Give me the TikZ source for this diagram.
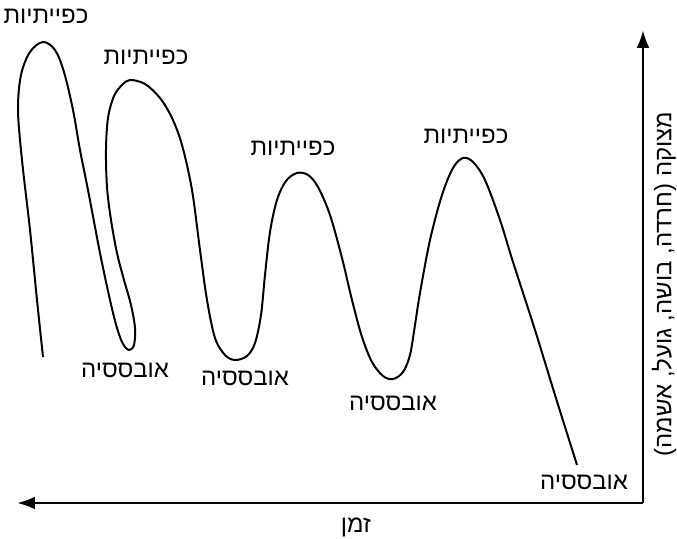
\documentclass[tikz,border=0pt]{standalone}
\usepackage{fontspec}
\usepackage{tikz}
\usetikzlibrary{arrows.meta, positioning, calc}
\TeXXeTstate=1
\newfontfamily\hebfont[Script=Hebrew]{Liberation Sans}

\begin{document}
\begin{tikzpicture}[x=0.5pt, y=-0.5pt, >={Latex[length=9pt,width=6.5pt]},
  lbl/.style={font=\hebfont\fontsize{12}{14}\selectfont, inner sep=0pt}]
\useasboundingbox (0,0) rectangle (677,539);

% צירים
\coordinate (origin) at (643,503);
\coordinate (tend) at (17,503);
\coordinate (send) at (643,30);
\draw[->, line width=1.4pt] (origin) -- (tend);
\draw[->, line width=1.4pt] (origin) -- (send);
\node[lbl] (time) at (356,527) {\beginR זמן\endR};
\node[lbl, rotate=90] (distress) at (664,284) {\beginR מצוקה (חרדה, בושה, גועל, אשמה)\endR};

% העקומה
\draw[line width=1pt, line join=round] plot[smooth, tension=0.55] coordinates {
  (43,357) (37,300) (30,230) (22,160) (18,110) (21,75) (30,52) (43,42)
  (55,50) (64,72) (73,110) (80,150) (88,190) (100,253) (110,300) (117,328)
  (123,344) (129,350) (134,345) (135,328) (131,305) (124,280) (117,253)
  (111,220) (107,187) (106,150) (108,118) (114,96) (122,85) (130,80)
  (145,84) (160,98) (172,118) (182,145) (192,190) (200,250) (207,300)
  (215,338) (225,355) (235,360) (247,356) (255,343) (261,315) (265,275)
  (270,232) (277,200) (286,181) (297,173) (308,175) (318,187) (330,215)
  (342,258) (352,300) (362,337) (372,362) (383,376) (393,379) (403,372)
  (410,355) (415,325) (420,293) (430,240) (442,195) (453,168) (463,158)
  (473,162) (485,180) (500,220) (513,262) (535,330) (555,395) (577,465)};

% כפייתיות
\node[lbl] (comp1) at (46,16) {\beginR כפייתיות\endR};
\node[lbl] (comp2) at (146,57) {\beginR כפייתיות\endR};
\node[lbl] (comp3) at (293,148) {\beginR כפייתיות\endR};
\node[lbl] (comp4) at (466,136) {\beginR כפייתיות\endR};

% אובססיה
\node[lbl] (obs1) at (125,370) {\beginR אובססיה\endR};
\node[lbl] (obs2) at (245,378) {\beginR אובססיה\endR};
\node[lbl] (obs3) at (393,403) {\beginR אובססיה\endR};
\node[lbl] (obs4) at (584,482) {\beginR אובססיה\endR};

\end{tikzpicture}
\end{document}
